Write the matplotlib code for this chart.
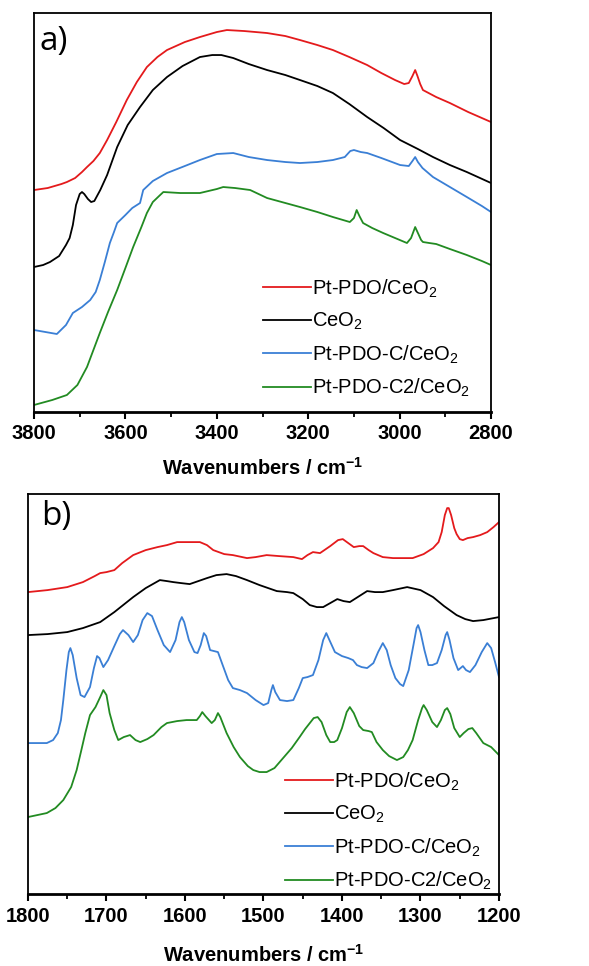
import numpy as np
import matplotlib.pyplot as plt
from matplotlib.ticker import MultipleLocator

plt.rcParams['font.family'] = ['Liberation Sans', 'DejaVu Sans']
plt.rcParams['mathtext.fontset'] = 'custom'
plt.rcParams['mathtext.rm'] = 'Liberation Sans'
plt.rcParams['mathtext.bf'] = 'Liberation Sans:bold'

labels = ['Pt-PDO/CeO$_2$', 'CeO$_2$', 'Pt-PDO-C/CeO$_2$', 'Pt-PDO-C2/CeO$_2$']
colors = ['#e41a1c', '#000000', '#3a7fd5', '#228b22']

# panel a (O-H / C-H region), arbitrary intensity (offset traces, larger = lower)
a_red_x = [3800, 3770, 3740, 3728, 3710, 3695, 3684, 3670, 3656, 3640, 3620, 3597,
           3575, 3553, 3530, 3509, 3470, 3437, 3400, 3378, 3340, 3290, 3250, 3218,
           3180, 3146, 3110, 3071, 3040, 3010, 2990, 2980, 2972, 2966, 2961, 2955,
           2949, 2920, 2890, 2850, 2800]
a_red_y = [190, 188, 184, 182, 178, 172, 167, 161, 153, 140, 122, 100,
           82, 67, 57, 50, 42, 37, 32, 30, 31, 33, 36, 40,
           45, 50, 57, 65, 73, 80, 84, 83, 76, 70, 76, 84,
           90, 97, 103, 112, 122]
a_blk_x = [3800, 3780, 3765, 3745, 3730, 3722, 3715, 3708, 3700, 3695, 3690, 3682,
           3675, 3668, 3655, 3640, 3618, 3595, 3568, 3540, 3509, 3475, 3437, 3410,
           3390, 3364, 3330, 3290, 3250, 3218, 3180, 3146, 3110, 3071, 3035, 2999,
           2960, 2927, 2890, 2853, 2800]
a_blk_y = [267, 265, 262, 256, 245, 238, 225, 205, 194, 192, 194, 199,
           202, 201, 190, 175, 147, 125, 107, 90, 77, 66, 57, 55,
           55, 58, 64, 70, 75, 80, 86, 93, 104, 117, 128, 140,
           149, 157, 165, 172, 183]
a_blu_x = [3800, 3775, 3750, 3730, 3715, 3695, 3677, 3665, 3656, 3645, 3634, 3625,
           3618, 3600, 3585, 3568, 3561, 3540, 3509, 3470, 3437, 3400, 3364, 3330,
           3290, 3250, 3218, 3180, 3146, 3120, 3108, 3100, 3085, 3071, 3040, 2999,
           2980, 2972, 2966, 2960, 2950, 2927, 2890, 2853, 2820, 2800]
a_blu_y = [330, 332, 334, 325, 313, 307, 300, 292, 280, 262, 243, 232,
           223, 215, 208, 203, 190, 181, 173, 166, 160, 154, 153, 157,
           160, 162, 163, 162, 160, 157, 151, 150, 152, 153, 158, 165,
           166, 161, 157, 162, 168, 177, 187, 197, 206, 212]
a_grn_x = [3800, 3760, 3728, 3705, 3684, 3670, 3656, 3638, 3618, 3600, 3583, 3565,
           3553, 3540, 3524, 3517, 3480, 3437, 3400, 3386, 3360, 3327, 3290, 3250,
           3218, 3180, 3146, 3109, 3100, 3094, 3088, 3080, 3060, 3036, 3010, 2984,
           2975, 2966, 2960, 2953, 2949, 2935, 2920, 2890, 2853, 2820, 2800]
a_grn_y = [405, 400, 395, 385, 367, 350, 333, 312, 290, 268, 247, 227,
           213, 202, 195, 192, 193, 193, 189, 187, 188, 190, 198, 203,
           207, 212, 217, 222, 218, 210, 216, 223, 228, 233, 238, 243,
           238, 227, 233, 240, 242, 243, 244, 249, 255, 261, 265]

# panel b (fingerprint region)
b_red_x = [1800, 1775, 1750, 1730, 1715, 1708, 1700, 1690, 1680, 1666, 1650, 1635,
           1623, 1610, 1595, 1581, 1572, 1564, 1550, 1539, 1521, 1510, 1496, 1480,
           1462, 1451, 1444, 1437, 1428, 1415, 1405, 1399, 1392, 1385, 1378, 1373,
           1366, 1360, 1348, 1335, 1320, 1310, 1296, 1284, 1277, 1273, 1269, 1266,
           1264, 1261, 1257, 1254, 1250, 1246, 1240, 1233, 1224, 1215, 1207, 1200]
b_red_y = [592, 590, 587, 582, 576, 573, 572, 570, 563, 555, 550, 547,
           545, 542, 542, 542, 545, 550, 554, 555, 558, 557, 555, 556,
           557, 559, 555, 552, 553, 546, 540, 539, 543, 547, 546, 546,
           550, 553, 557, 558, 558, 558, 554, 548, 542, 532, 515, 508,
           508, 515, 528, 534, 539, 540, 538, 537, 535, 532, 527, 522]
b_blk_x = [1800, 1775, 1750, 1730, 1708, 1690, 1666, 1650, 1632, 1623, 1615, 1605,
           1594, 1583, 1572, 1560, 1547, 1535, 1521, 1505, 1483, 1470, 1462, 1450,
           1441, 1432, 1424, 1415, 1406, 1398, 1390, 1380, 1368, 1358, 1348, 1335,
           1317, 1300, 1284, 1270, 1254, 1243, 1233, 1220, 1200]
b_blk_y = [635, 634, 632, 628, 622, 612, 597, 588, 580, 581, 582, 583,
           584, 581, 578, 575, 574, 576, 580, 585, 591, 592, 593, 599,
           605, 607, 607, 603, 599, 601, 602, 597, 591, 592, 592, 590,
           587, 590, 597, 606, 615, 619, 621, 620, 617]
b_blu_x = [1800, 1785, 1776, 1768, 1762, 1758, 1755, 1751, 1748, 1746, 1743, 1738,
           1733, 1728, 1721, 1716, 1712, 1709, 1704, 1698, 1690, 1683, 1679, 1672,
           1666, 1660, 1654, 1648, 1642, 1635, 1627, 1619, 1612, 1607, 1604, 1601,
           1595, 1588, 1584, 1580, 1576, 1573, 1568, 1558, 1552, 1545, 1539, 1530,
           1521, 1510, 1500, 1494, 1490, 1488, 1485, 1479, 1470, 1462, 1455, 1450,
           1444, 1437, 1430, 1424, 1420, 1416, 1409, 1400, 1392, 1386, 1381, 1375,
           1368, 1360, 1354, 1348, 1343, 1338, 1332, 1326, 1322, 1315, 1309, 1305,
           1303, 1300, 1295, 1290, 1285, 1279, 1273, 1268, 1266, 1263, 1258, 1252,
           1246, 1242, 1237, 1230, 1222, 1215, 1210, 1205, 1200]
b_blu_y = [743, 743, 743, 740, 733, 720, 700, 670, 652, 648, 655, 678,
           695, 697, 687, 668, 656, 658, 667, 660, 646, 634, 630, 635,
           642, 635, 620, 613, 616, 630, 645, 652, 640, 622, 617, 622,
           640, 652, 653, 645, 633, 636, 650, 652, 665, 680, 688, 690,
           693, 700, 705, 703, 690, 685, 692, 700, 701, 700, 688, 678,
           677, 675, 660, 640, 633, 640, 652, 656, 658, 660, 665, 667,
           668, 663, 652, 643, 650, 665, 678, 684, 686, 670, 645, 628,
           625, 632, 650, 665, 665, 663, 650, 635, 632, 640, 658, 670,
           666, 670, 672, 665, 652, 643, 648, 662, 677]
b_grn_x = [1800, 1788, 1776, 1765, 1755, 1745, 1738, 1732, 1727, 1721, 1714, 1708,
           1704, 1700, 1696, 1690, 1685, 1678, 1670, 1663, 1657, 1648, 1640, 1630,
           1623, 1610, 1598, 1585, 1581, 1578, 1574, 1566, 1562, 1558, 1555, 1547,
           1538, 1530, 1520, 1513, 1505, 1496, 1486, 1475, 1464, 1454, 1447, 1441,
           1436, 1431, 1426, 1420, 1415, 1410, 1406, 1400, 1394, 1390, 1385, 1378,
           1373, 1366, 1362, 1356, 1348, 1340, 1330, 1322, 1316, 1310, 1303, 1298,
           1296, 1292, 1285, 1279, 1274, 1269, 1266, 1262, 1257, 1250, 1245, 1239,
           1234, 1229, 1220, 1210, 1200]
b_grn_y = [817, 815, 813, 808, 800, 787, 770, 750, 733, 715, 707, 697,
           690, 695, 713, 730, 740, 737, 735, 740, 742, 739, 735, 727,
           723, 721, 720, 720, 716, 712, 716, 723, 720, 713, 717, 733,
           747, 757, 766, 770, 772, 772, 768, 758, 748, 737, 729, 723,
           718, 717, 722, 735, 742, 742, 740, 728, 712, 707, 713, 726,
           730, 731, 732, 742, 750, 756, 760, 757, 750, 740, 720, 708,
           705, 710, 722, 727, 720, 710, 708, 714, 728, 737, 733, 729,
           728, 733, 743, 747, 755]

panel_a = [(a_red_x, a_red_y), (a_blk_x, a_blk_y), (a_blu_x, a_blu_y), (a_grn_x, a_grn_y)]
panel_b = [(b_red_x, b_red_y), (b_blk_x, b_blk_y), (b_blu_x, b_blu_y), (b_grn_x, b_grn_y)]


def draw(ax, traces, xlim, major, minor, ylim, tag, tag_pos, leg_anchor, labelpad):
    for (x, y), c, lab in zip(traces, colors, labels):
        ax.plot(x, -np.array(y), color=c, lw=1.3, label=lab, solid_joinstyle='round')
    ax.set_xlim(*xlim)
    ax.set_ylim(-ylim[1], -ylim[0])
    ax.set_yticks([])
    ax.xaxis.set_major_locator(MultipleLocator(major))
    ax.xaxis.set_minor_locator(MultipleLocator(minor))
    ax.tick_params(axis='x', which='major', direction='out', length=5, width=1.5,
                   labelsize=14.5, pad=4)
    ax.tick_params(axis='x', which='minor', direction='out', length=3.5, width=1.3)
    for lab in ax.get_xticklabels():
        lab.set_fontweight('bold')
    for s in ['left', 'right', 'top']:
        ax.spines[s].set_linewidth(1.3)
    ax.spines['bottom'].set_linewidth(2)
    ax.set_xlabel('Wavenumbers / cm$^{\\mathbf{-1}}$', fontsize=14.5, fontweight='bold',
                  labelpad=labelpad)
    ax.text(tag_pos[0], tag_pos[1], tag, transform=ax.transAxes, fontsize=24,
            va='top', ha='left', family=['Open Sans', 'DejaVu Sans'])
    ax.legend(loc='lower left', bbox_to_anchor=leg_anchor, frameon=False, fontsize=14.5,
              handlelength=2.4, handletextpad=0.05, labelspacing=0.55, borderpad=0)


fig = plt.figure(figsize=(5.89, 9.66), dpi=100)
ax1 = fig.add_axes([0.0577, 0.5735, 0.776, 0.413])
ax2 = fig.add_axes([0.0475, 0.0745, 0.7997, 0.414])

draw(ax1, panel_a, (3800, 2800), 200, 100, (13, 412), 'a)', (0.013, 0.97),
     (0.479, 0.0075), 10)
draw(ax2, panel_b, (1800, 1200), 100, 50, (494, 894), 'b)', (0.027, 0.985),
     (0.524, -0.02), 13)

fig.savefig('out.png', dpi=100)
